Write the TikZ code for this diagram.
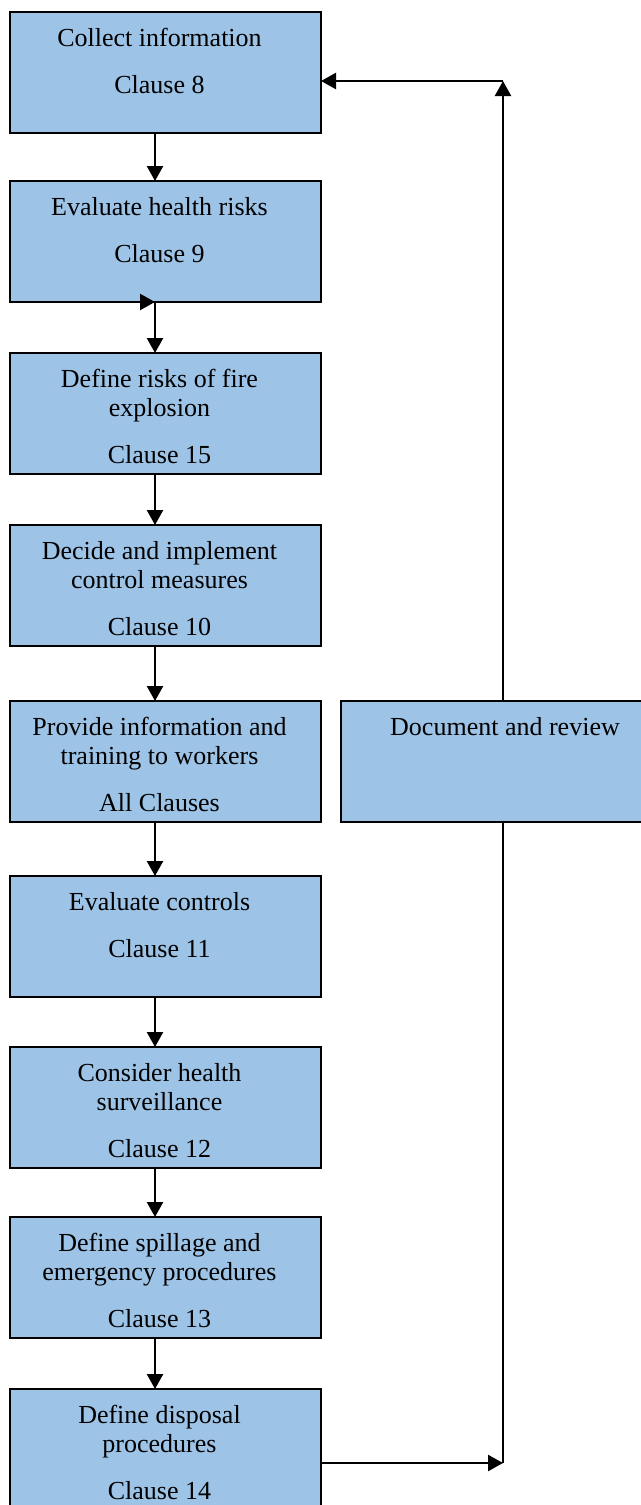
\documentclass[tikz,border=0pt]{standalone}
\usepackage{fontspec}
\setmainfont{Liberation Serif}
\usetikzlibrary{positioning, arrows.meta}
\definecolor{boxblue}{RGB}{157,195,230}
\tikzstyle{bluebox} = [rectangle, minimum height=60.5pt, inner sep=0pt, outer sep=0pt, draw=black, line width=1pt, fill=boxblue, font=\fontsize{13}{14.5}\selectfont]
\tikzstyle{stage} = [bluebox, minimum width=155.5pt, execute at begin node={\kern-6pt}]
\tikzstyle{review} = [bluebox, minimum width=164pt]
\tikzstyle{arrow} = [line width=1.2pt, -{Triangle[length=7.5pt, width=8pt]}]
\tikzstyle{line} = [line width=1.2pt]
\newcommand{\stagetext}[3][150pt]{\parbox[c][60pt][t]{#1}{\centering\rule{0pt}{17pt}#2\par\vspace{9pt}#3}}

\begin{document}
\begin{tikzpicture}[x=0.5pt, y=-0.5pt, node distance=25.5pt]
    \useasboundingbox (0,0) rectangle (641,1505);
    % Place nodes
    \node (collect) [stage] at (165.5,72.5) {\stagetext{Collect information}{Clause 8}};
    \node (health) [stage, below=24pt of collect] {\stagetext{Evaluate health risks}{Clause 9}};
    \node (fire) [stage, below=of health] {\stagetext{Define risks of fire\\explosion}{Clause 15}};
    \node (control) [stage, below=of fire] {\stagetext{Decide and implement\\control measures}{Clause 10}};
    \node (training) [stage, below=27.5pt of control] {\stagetext{Provide information and\\training to workers}{All Clauses}};
    \node (evalctl) [stage, below=27pt of training] {\stagetext{Evaluate controls}{Clause 11}};
    \node (surveil) [stage, below=25pt of evalctl] {\stagetext{Consider health\\surveillance}{Clause 12}};
    \node (spill) [stage, below=24.5pt of surveil] {\stagetext{Define spillage and\\emergency procedures}{Clause 13}};
    \node (disposal) [stage, below=of spill] {\stagetext{Define disposal\\procedures}{Clause 14}};
    \node (document) [review, right=10pt of training] {\stagetext[160pt]{Document and review}{}};

    % Corners of the loop
    \coordinate (ax) at (155,0);
    \coordinate (bottomturn) at (503,1463);
    \coordinate (topturn) at (503,81);

    % Connect nodes with arrows
    \draw [arrow] (collect.south -| ax) -- (health.north -| ax);
    \draw [arrow] ([xshift=-0.5pt]health.south -| ax) -- (health.south -| ax);
    \draw [arrow] (health.south -| ax) -- (fire.north -| ax);
    \draw [arrow] (fire.south -| ax) -- (control.north -| ax);
    \draw [arrow] (control.south -| ax) -- (training.north -| ax);
    \draw [arrow] (training.south -| ax) -- (evalctl.north -| ax);
    \draw [arrow] (evalctl.south -| ax) -- (surveil.north -| ax);
    \draw [arrow] (surveil.south -| ax) -- (spill.north -| ax);
    \draw [arrow] (spill.south -| ax) -- (disposal.north -| ax);
    \draw [arrow] (disposal.east |- bottomturn) -- (bottomturn);
    \draw [line] (bottomturn) -- (document.south -| bottomturn);
    \draw [arrow] (document.north -| topturn) -- (topturn);
    \draw [arrow] (topturn) -- (collect.east |- topturn);
\end{tikzpicture}
\end{document}
